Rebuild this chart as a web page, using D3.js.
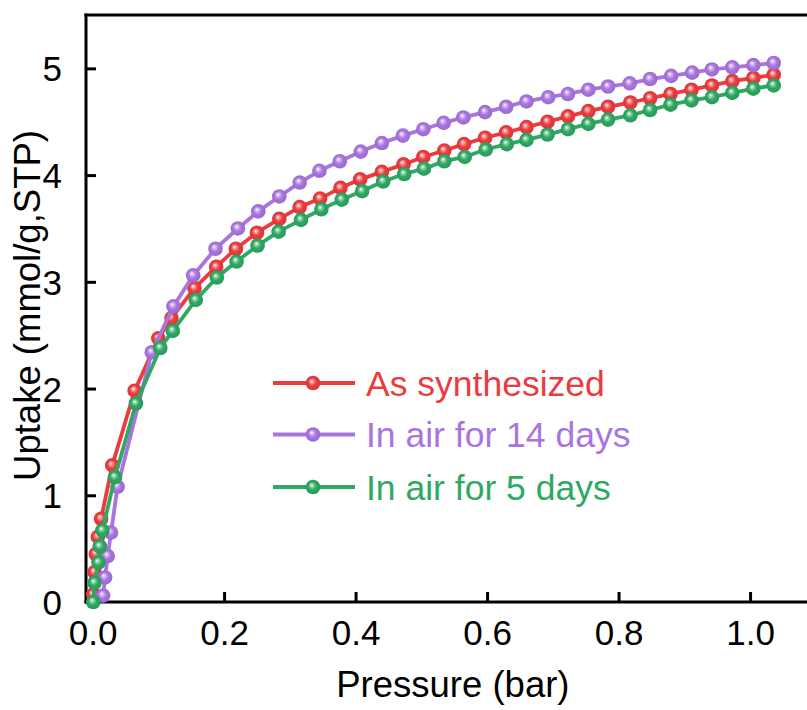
<!DOCTYPE html>
<html>
<head>
<meta charset="utf-8">
<script src="https://cdn.jsdelivr.net/npm/d3@7"></script>
<style>
  html, body { margin: 0; padding: 0; background: #fff; overflow: hidden; }
  text { font-family: "Liberation Sans", Arial, sans-serif; }
</style>
</head>
<body>
<svg id="chart" width="807" height="710"></svg>
<script>
// ---- data ----
const seriesNames = ["As synthesized", "In air for 14 days", "In air for 5 days"];
const seriesColors = ["#ec3b3d", "#a974e0", "#2ea862"];

const pressureAs = [0.001, 0.003, 0.005, 0.008, 0.013, 0.030, 0.064, 0.100, 0.120, 0.155, 0.188, 0.218, 0.250, 0.284, 0.315, 0.346, 0.377, 0.407, 0.440, 0.473, 0.503, 0.535, 0.565, 0.597, 0.629, 0.660, 0.692, 0.723, 0.754, 0.784, 0.818, 0.848, 0.879, 0.911, 0.942, 0.973, 1.005, 1.036];
const uptakeAs   = [0.07, 0.28, 0.45, 0.61, 0.78, 1.28, 1.98, 2.47, 2.66, 2.94, 3.14, 3.31, 3.46, 3.59, 3.70, 3.78, 3.88, 3.96, 4.03, 4.10, 4.17, 4.23, 4.29, 4.35, 4.40, 4.45, 4.50, 4.55, 4.60, 4.64, 4.68, 4.72, 4.76, 4.80, 4.84, 4.88, 4.91, 4.94];

const pressure14 = [0.016, 0.019, 0.023, 0.028, 0.038, 0.090, 0.123, 0.153, 0.187, 0.221, 0.252, 0.284, 0.315, 0.345, 0.376, 0.408, 0.440, 0.472, 0.503, 0.534, 0.564, 0.597, 0.629, 0.660, 0.693, 0.723, 0.754, 0.784, 0.817, 0.848, 0.880, 0.912, 0.942, 0.973, 1.005, 1.036];
const uptake14   = [0.06, 0.23, 0.43, 0.65, 1.08, 2.34, 2.77, 3.06, 3.31, 3.50, 3.66, 3.80, 3.93, 4.04, 4.13, 4.22, 4.30, 4.37, 4.43, 4.49, 4.54, 4.59, 4.64, 4.69, 4.73, 4.76, 4.80, 4.83, 4.86, 4.90, 4.93, 4.96, 4.99, 5.01, 5.03, 5.05];

const pressure5 = [0.001, 0.003, 0.009, 0.011, 0.015, 0.034, 0.066, 0.103, 0.122, 0.157, 0.189, 0.219, 0.251, 0.283, 0.317, 0.348, 0.379, 0.410, 0.442, 0.474, 0.504, 0.535, 0.566, 0.598, 0.630, 0.660, 0.692, 0.723, 0.754, 0.784, 0.818, 0.848, 0.879, 0.911, 0.942, 0.973, 1.005, 1.036];
const uptake5   = [0.00, 0.18, 0.37, 0.52, 0.67, 1.17, 1.86, 2.38, 2.54, 2.83, 3.04, 3.19, 3.34, 3.47, 3.58, 3.68, 3.77, 3.85, 3.94, 4.01, 4.06, 4.13, 4.17, 4.24, 4.29, 4.33, 4.38, 4.43, 4.48, 4.52, 4.56, 4.61, 4.66, 4.70, 4.73, 4.77, 4.81, 4.84];

const xTicks = [0.0, 0.2, 0.4, 0.6, 0.8, 1.0];
const yTicks = [0, 1, 2, 3, 4, 5];
const xTitle = "Pressure (bar)";
const yTitle = "Uptake (mmol/g,STP)";

// ---- build ----
const series = [
  { name: seriesNames[0], color: seriesColors[0], p: pressureAs, u: uptakeAs },
  { name: seriesNames[1], color: seriesColors[1], p: pressure14, u: uptake14 },
  { name: seriesNames[2], color: seriesColors[2], p: pressure5, u: uptake5 }
];

const svg = d3.select("#chart");
const FONT = 35;
const TITLE_FONT = 36.5;
const LEGEND_FONT = 35.5;

const x = d3.scaleLinear().domain([-0.01, 1.1]).range([86, 815.8]);
const y = d3.scaleLinear().domain([0, 5.5]).range([602, 15]);

// gradients for shaded markers
const defs = svg.append("defs");
series.forEach((s, i) => {
  const g = defs.append("radialGradient")
    .attr("id", "grad" + i)
    .attr("cx", "0.5").attr("cy", "0.5").attr("r", "0.55")
    .attr("fx", "0.4").attr("fy", "0.36");
  const c = d3.color(s.color);
  g.append("stop").attr("offset", "0%").attr("stop-color", "#ffffff");
  g.append("stop").attr("offset", "20%").attr("stop-color", d3.interpolateRgb("#ffffff", s.color)(0.5));
  g.append("stop").attr("offset", "50%").attr("stop-color", s.color);
  g.append("stop").attr("offset", "100%").attr("stop-color", c.darker(0.3).formatHex());
});

// axes
const xAxis = d3.axisBottom(x).tickValues(xTicks).tickSizeInner(-10).tickSizeOuter(0)
  .tickFormat(d3.format(".1f")).tickPadding(20);
const yAxis = d3.axisLeft(y).tickValues(yTicks).tickSizeInner(-10).tickSizeOuter(0)
  .tickFormat(d3.format("d")).tickPadding(24);

const gx = svg.append("g").attr("transform", "translate(0,602)").call(xAxis);
const gy = svg.append("g").attr("transform", "translate(86,0)").call(yAxis);

[gx, gy].forEach(g => {
  g.select(".domain").attr("stroke", "#000").attr("stroke-width", 3);
  g.selectAll(".tick line").attr("stroke", "#000").attr("stroke-width", 3);
  g.selectAll(".tick text").attr("fill", "#000").attr("font-size", FONT)
    .attr("font-family", "'Liberation Sans', Arial, sans-serif");
});
gx.selectAll(".tick text").attr("dy", null).attr("y", 43);
gy.selectAll(".tick text").attr("dy", "0.36em");

gx.select(".domain").attr("d", `M${x(-0.01) - 1.5},0H${x(1.1)}`);
gy.select(".domain").attr("d", `M0,${y(0) + 1.5}V${y(5.5) - 1.5}`);

// top border
svg.append("line")
  .attr("x1", x(-0.01) - 1.5).attr("x2", x(1.1))
  .attr("y1", y(5.5)).attr("y2", y(5.5))
  .attr("stroke", "#000").attr("stroke-width", 3);

// titles
svg.append("text")
  .attr("x", (x(-0.01) + x(1.1)) / 2 + 2).attr("y", 697)
  .attr("text-anchor", "middle").attr("font-size", TITLE_FONT).attr("fill", "#000")
  .text(xTitle);
svg.append("text")
  .attr("transform", `translate(40,${(y(0) + y(5.5)) / 2 - 3}) rotate(-90)`)
  .attr("text-anchor", "middle").attr("font-size", TITLE_FONT).attr("fill", "#000")
  .text(yTitle);

// series
const line = d3.line().x(d => x(d[0])).y(d => y(d[1]));
const R = 7.3;
series.forEach((s, i) => {
  const pts = s.p.map((p, k) => [p, s.u[k]]);
  const g = svg.append("g");
  g.append("path").datum(pts).attr("d", line)
    .attr("fill", "none").attr("stroke", s.color).attr("stroke-width", 3.8)
    .attr("stroke-linejoin", "round");
  g.selectAll("circle").data(pts).join("circle")
    .attr("cx", d => x(d[0])).attr("cy", d => y(d[1])).attr("r", R)
    .attr("fill", `url(#grad${i})`);
});

// legend
const legendY = [383, 434.5, 487];
const lg = svg.append("g");
series.forEach((s, i) => {
  const yy = legendY[i];
  lg.append("line").attr("x1", 273).attr("x2", 355).attr("y1", yy).attr("y2", yy)
    .attr("stroke", s.color).attr("stroke-width", 3.8);
  lg.append("circle").attr("cx", 313).attr("cy", yy).attr("r", R)
    .attr("fill", `url(#grad${i})`);
  lg.append("text").attr("x", 366).attr("y", yy + 12.5).attr("font-size", LEGEND_FONT)
    .attr("fill", s.color).text(s.name);
});
</script>
</body>
</html>
